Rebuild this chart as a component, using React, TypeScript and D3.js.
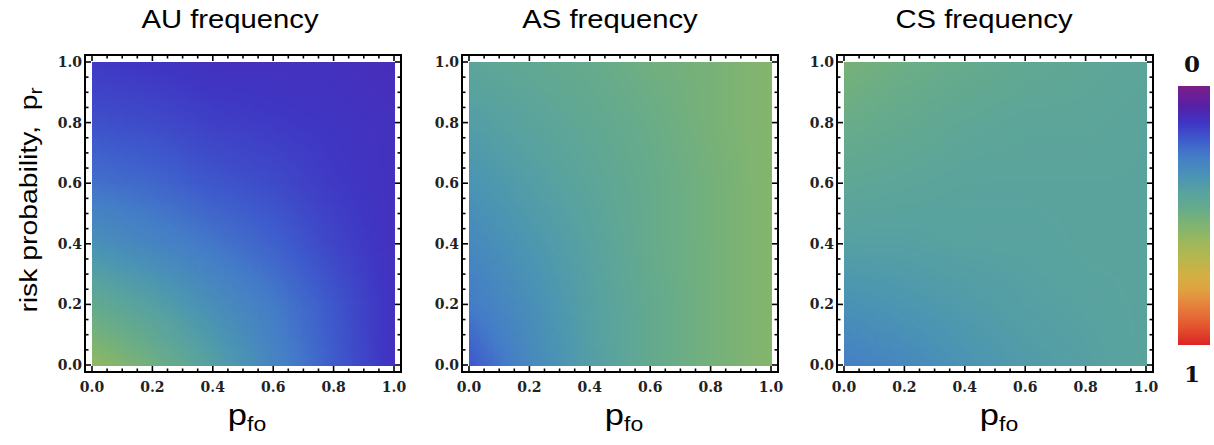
import React from 'react';
import * as d3 from 'd3';

// ---- data ----
const pfoGrid = [0, 0.2, 0.4, 0.6, 0.8, 1.0];
const prGrid = [0, 0.2, 0.4, 0.6, 0.8, 1.0];

// rows: p_r = 0 .. 1 ; columns: p_fo = 0 .. 1
const auFrequency = [
  [0.58, 0.50, 0.40, 0.30, 0.21, 0.13],
  [0.46, 0.40, 0.33, 0.27, 0.20, 0.13],
  [0.34, 0.30, 0.26, 0.22, 0.17, 0.13],
  [0.25, 0.23, 0.20, 0.18, 0.15, 0.13],
  [0.19, 0.18, 0.16, 0.15, 0.14, 0.13],
  [0.15, 0.14, 0.13, 0.13, 0.13, 0.12],
];
const asFrequency = [
  [0.20, 0.31, 0.39, 0.46, 0.51, 0.55],
  [0.27, 0.33, 0.40, 0.46, 0.51, 0.55],
  [0.31, 0.36, 0.41, 0.47, 0.51, 0.55],
  [0.35, 0.39, 0.43, 0.47, 0.51, 0.55],
  [0.39, 0.42, 0.45, 0.48, 0.52, 0.55],
  [0.43, 0.45, 0.47, 0.50, 0.52, 0.55],
];
const csFrequency = [
  [0.28, 0.31, 0.35, 0.38, 0.40, 0.42],
  [0.34, 0.36, 0.38, 0.40, 0.41, 0.42],
  [0.40, 0.40, 0.41, 0.41, 0.42, 0.42],
  [0.44, 0.43, 0.42, 0.42, 0.42, 0.42],
  [0.48, 0.46, 0.44, 0.43, 0.43, 0.42],
  [0.52, 0.49, 0.47, 0.45, 0.44, 0.43],
];

const panelTitles = ['AU frequency', 'AS frequency', 'CS frequency'];
const tickValues = [0, 0.2, 0.4, 0.6, 0.8, 1.0];
const tickLabels = ['0.0', '0.2', '0.4', '0.6', '0.8', '1.0'];
const minorTickValues = d3.range(0, 1.0001, 0.05).filter((v) => Math.abs(v * 5 - Math.round(v * 5)) > 1e-6);

const colorPositions = [0, 0.03, 0.08, 0.144, 0.21, 0.27, 0.35, 0.41, 0.48, 0.54, 0.61, 0.67, 0.74, 0.79, 0.85, 0.92, 1];
const colorStops = [
  '#7B1E8A', '#6E1F94', '#5620A8', '#3F36C4', '#3E5CCC', '#447CC8', '#4A94B4', '#58A2A0',
  '#68AC88', '#80B470', '#A0B85A', '#B8B64C', '#D6AE42', '#E0A040', '#E6803C', '#E45A30', '#DC2424',
];

// ---- layout ----
const W = 1214;
const H = 445;
const panelLefts = [85, 462, 837];
const panelWidth = 316;
const panelTop = 55;
const panelHeight = 317;
const pad = 7;
const titleX = [230, 610, 984];

const colorScale = d3.scaleLinear<string>().domain(colorPositions).range(colorStops).interpolate(d3.interpolateRgb).clamp(true);

function bilinear(grid: number[][], x: number, y: number) {
  const xs = d3.scaleLinear().domain([pfoGrid[0], pfoGrid[pfoGrid.length - 1]]).range([0, pfoGrid.length - 1]);
  const ys = d3.scaleLinear().domain([prGrid[0], prGrid[prGrid.length - 1]]).range([0, prGrid.length - 1]);
  const fx = xs(x);
  const fy = ys(y);
  const i0 = Math.min(Math.floor(fx), pfoGrid.length - 2);
  const j0 = Math.min(Math.floor(fy), prGrid.length - 2);
  const tx = fx - i0;
  const ty = fy - j0;
  const a = grid[j0][i0];
  const b = grid[j0][i0 + 1];
  const c = grid[j0 + 1][i0];
  const d = grid[j0 + 1][i0 + 1];
  return (a * (1 - tx) + b * tx) * (1 - ty) + (c * (1 - tx) + d * tx) * ty;
}

const N = 80;

function Panel({ idx, grid }: { idx: number; grid: number[][] }) {
  const left = panelLefts[idx];
  const x = d3.scaleLinear().domain([0, 1]).range([left + pad, left + panelWidth - pad]);
  const y = d3.scaleLinear().domain([0, 1]).range([panelTop + panelHeight - pad, panelTop + pad]);
  const cells: JSX.Element[] = [];
  const step = 1 / N;
  for (let j = 0; j < N; j++) {
    for (let i = 0; i < N; i++) {
      const xv = (i + 0.5) * step;
      const yv = (j + 0.5) * step;
      const v = bilinear(grid, xv, yv);
      const x0 = x(i * step);
      const x1 = x((i + 1) * step);
      const y0 = y((j + 1) * step);
      const y1 = y(j * step);
      cells.push(
        <rect key={`${i}-${j}`} x={x0} y={y0} width={x1 - x0 + 0.5} height={y1 - y0 + 0.5} fill={colorScale(v)} />
      );
    }
  }
  const right = left + panelWidth;
  const bottom = panelTop + panelHeight;
  const majorLen = 6;
  const minorLen = 3.5;
  const ticks: JSX.Element[] = [];
  const addTicks = (vals: number[], len: number, kind: string) => {
    vals.forEach((v, k) => {
      const xv = x(v);
      const yv = y(v);
      ticks.push(<line key={`${kind}b${k}`} x1={xv} x2={xv} y1={bottom} y2={bottom - len} />);
      ticks.push(<line key={`${kind}t${k}`} x1={xv} x2={xv} y1={panelTop} y2={panelTop + len} />);
      ticks.push(<line key={`${kind}l${k}`} x1={left} x2={left + len} y1={yv} y2={yv} />);
      ticks.push(<line key={`${kind}r${k}`} x1={right} x2={right - len} y1={yv} y2={yv} />);
    });
  };
  addTicks(tickValues, majorLen, 'M');
  addTicks(minorTickValues, minorLen, 'm');
  return (
    <g>
      <g shapeRendering="crispEdges">{cells}</g>
      <g stroke="#000" strokeWidth={1.6}>{ticks}</g>
      <rect x={left} y={panelTop} width={panelWidth} height={panelHeight} fill="none" stroke="#000" strokeWidth={2} />
      {tickValues.map((v, k) => (
        <text
          key={`xl${k}`}
          x={x(v)}
          y={392}
          textAnchor="middle"
          fontFamily="'DejaVu Serif', serif"
          fontWeight="bold"
          fontSize={14}
          fill="#222"
        >
          {tickLabels[k]}
        </text>
      ))}
      {tickValues.map((v, k) => (
        <text
          key={`yl${k}`}
          x={left - 3}
          y={y(v) + 5}
          textAnchor="end"
          fontFamily="'DejaVu Serif', serif"
          fontWeight="bold"
          fontSize={14}
          fill="#222"
        >
          {tickLabels[k]}
        </text>
      ))}
      <text
        transform={`translate(${titleX[idx]},28) scale(1.17,1)`}
        textAnchor="middle"
        fontFamily="'Liberation Sans', Arial, sans-serif"
        fontSize={25}
        fill="#000"
      >
        {panelTitles[idx]}
      </text>
      <text
        transform={`translate(${x(0.5) + 4},425) scale(1.15,1)`}
        textAnchor="middle"
        fontFamily="'Liberation Sans', Arial, sans-serif"
        fontSize={30}
        fill="#000"
      >
        p<tspan fontSize={20} dy={6}>fo</tspan>
      </text>
    </g>
  );
}

export default function App() {
  const grids = [auFrequency, asFrequency, csFrequency];
  const cbX = 1178;
  const cbW = 32;
  const cbTop = 86;
  const cbBottom = 345;
  return (
    <svg width={W} height={H} style={{ position: 'absolute', left: 0, top: 0, background: '#fff' }}>
      <defs>
        <linearGradient id="cbGrad" x1="0" y1="0" x2="0" y2="1">
          {colorPositions.map((p, k) => (
            <stop key={k} offset={p} stopColor={colorStops[k]} />
          ))}
        </linearGradient>
      </defs>
      <rect x={0} y={0} width={W} height={H} fill="#fff" />
      {grids.map((g, k) => (
        <Panel key={k} idx={k} grid={g} />
      ))}
      <text
        transform={`translate(37,200) rotate(-90) scale(1.18,1)`}
        textAnchor="middle"
        fontFamily="'Liberation Sans', Arial, sans-serif"
        fontSize={24}
        fill="#000"
      >
        risk probability,{'\u00A0\u00A0'}p<tspan fontSize={18} dy={5}>r</tspan>
      </text>
      <rect x={cbX} y={cbTop} width={cbW} height={cbBottom - cbTop} fill="url(#cbGrad)" />
      <text x={1192} y={72} textAnchor="middle" fontFamily="'DejaVu Serif', serif" fontWeight="bold" fontSize={23} fill="#111">
        0
      </text>
      <text x={1192} y={382} textAnchor="middle" fontFamily="'DejaVu Serif', serif" fontWeight="bold" fontSize={23} fill="#111">
        1
      </text>
    </svg>
  );
}
